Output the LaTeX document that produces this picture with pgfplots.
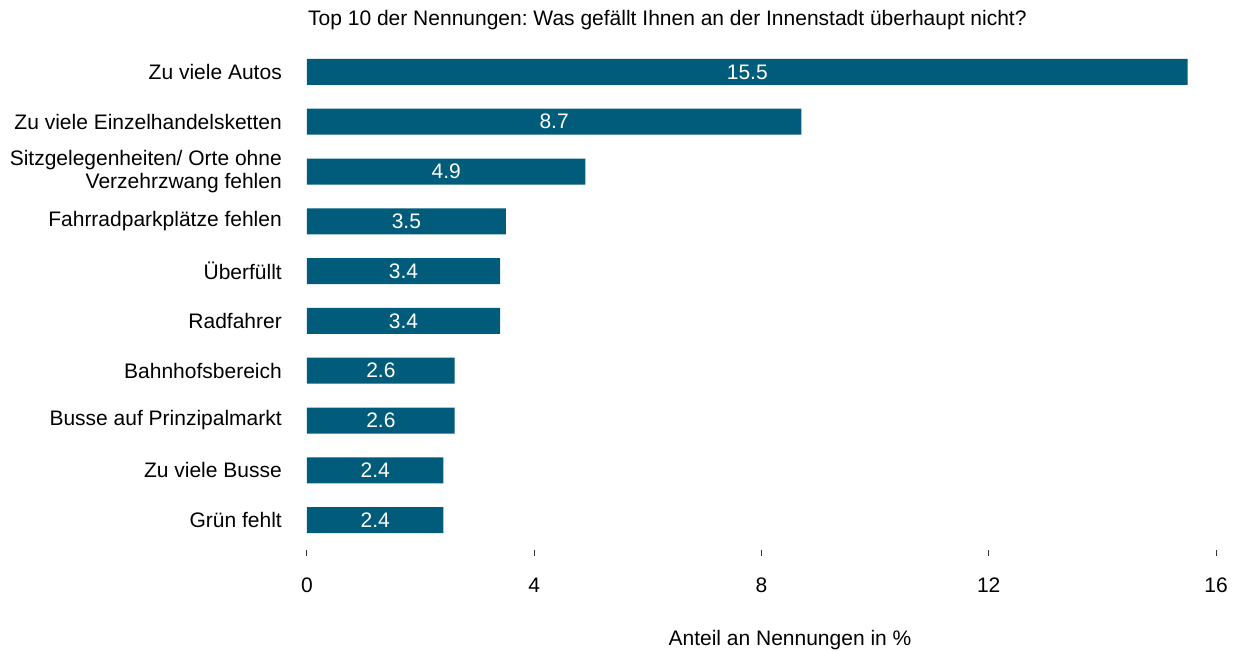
\documentclass[border=0pt]{standalone}
\usepackage{pgfplots}
\pgfplotsset{compat=1.18}
\usepackage{pgfplotstable}
\usepackage{fontspec}
\setmainfont{Liberation Sans}
\definecolor{barblue}{RGB}{0,92,122}

\pgfplotstableread[col sep=comma]{
pos,val
0,15.5
1,8.7
2,4.9
3,3.5
4,3.4
5,3.4
6,2.6
7,2.6
8,2.4
9,2.4
}\nennungen

\begin{document}
\frenchspacing
\fontsize{21}{23}\selectfont
\begin{tikzpicture}
\path[use as bounding box] (-307pt,-102pt) rectangle (928pt,550pt);
\begin{axis}[
    at={(0,0)}, anchor=south west,
    scale only axis,
    width=909pt, height=503pt,
    xbar, bar width=26pt, bar shift=0pt,
    xmin=0, xmax=16,
    ymin=-0.5, ymax=9.6,
    y dir=reverse,
    axis x line*=bottom, axis y line*=left,
    axis line style={draw=none},
    xtick={0,4,8,12,16},
    xtick pos=bottom,
    tick align=outside,
    major tick length=6pt,
    xtick style={draw=black!80, line width=1pt},
    ytick={0,...,9},
    ytick style={draw=none},
    yticklabels={Zu viele Autos, Zu viele Einzelhandelsketten, {Sitzgelegenheiten/ Orte ohne\\Verzehrzwang fehlen}, Fahrradparkplätze fehlen, Überfüllt, Radfahrer, Bahnhofsbereich, Busse auf Prinzipalmarkt, Zu viele Busse, Grün fehlt},
    yticklabel style={align=right, xshift=-12pt, font=\fontsize{21}{23}\selectfont},
    xticklabel style={yshift=-15pt, font=\fontsize{21}{23}\selectfont},
    /pgf/number format/assume math mode=true,
    clip=false,
]
\addplot[fill=barblue, draw=none] table[x=val, y=pos] {\nennungen};
\addplot[draw=none, mark=none, nodes near coords, point meta=explicit symbolic,
    every node near coord/.append style={anchor=center, text=white, font=\fontsize{21}{23}\selectfont}]
    table[x expr=\thisrow{val}/2, y=pos, meta=val] {\nennungen};
\end{axis}
\node[anchor=base west, inner sep=0pt] at (1pt,524pt) {Top 10 der Nennungen: Was gefällt Ihnen an der Innenstadt überhaupt nicht?};
\node[anchor=base, inner sep=0pt] at (483pt,-96pt) {Anteil an Nennungen in \%};
\end{tikzpicture}
\end{document}
